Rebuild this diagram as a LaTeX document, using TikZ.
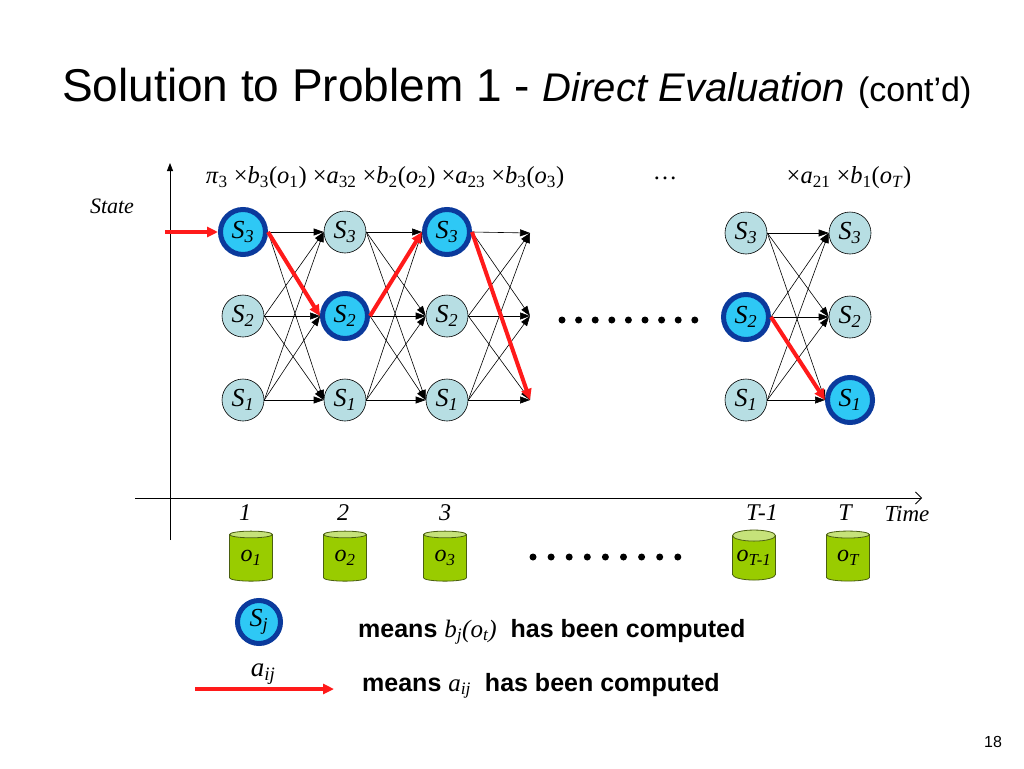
\documentclass[tikz,border=0pt]{standalone}
\usepackage{fontspec}
\setmainfont{Liberation Serif}
\setsansfont{Liberation Sans}
\usetikzlibrary{arrows.meta,shapes.geometric}
\definecolor{nodefill}{HTML}{B7DEE3}
\definecolor{hiring}{HTML}{0B3A9C}
\definecolor{hifill}{HTML}{2EC8F5}
\definecolor{cylbody}{HTML}{99CC00}
\definecolor{cyltop}{HTML}{C6E27A}
\definecolor{cylline}{HTML}{4A5F10}
\definecolor{redarr}{HTML}{FF1A1A}
\newcommand\sbs[1]{\textsubscript{#1}}
\newcommand\Sn[1]{\textit{S}\sbs{\textit{#1}}}
\begin{document}
\begin{tikzpicture}[x=1pt,y=-1pt,
 st/.style={circle, draw=black, line width=0.6pt, fill=nodefill, minimum size=42pt, inner sep=0pt, font=\fontsize{26}{28}\selectfont},
 hi/.style={circle, draw=hiring, line width=5pt, fill=hifill, minimum size=45pt, inner sep=0pt, font=\fontsize{26}{28}\selectfont},
 tr/.style={-{Triangle[length=10pt,width=7pt]}, line width=0.6pt, black},
 redtr/.style={-{Triangle[length=11pt,width=10pt]}, line width=4pt, redarr},
 obs/.style={cylinder, shape border rotate=90, aspect=0.32, draw=cylline, line width=0.8pt, cylinder uses custom fill, cylinder body fill=cylbody, cylinder end fill=cyltop, minimum width=43pt, minimum height=50pt, inner sep=0pt, font=\fontsize{24}{26}\selectfont\itshape},
 lab/.style={font=\fontsize{24}{26}\selectfont\itshape, inner sep=0pt},
 dot/.style={circle, fill=black, inner sep=0pt, minimum size=7pt}
]
\fill[white] (0,0) rectangle (1024,768);
\useasboundingbox (0,0) rectangle (1024,768);

% title
\node[anchor=base west, inner sep=0pt, font=\sffamily\fontsize{46}{50}\selectfont] (title) at (62,101)
 {Solution to Problem 1 - {\fontsize{40}{44}\selectfont\itshape Direct Evaluation} {\fontsize{34}{36}\selectfont (cont’d)}};

% formulas
\node[font=\fontsize{24.5}{26}\selectfont, inner sep=0pt] (f1) at (385,178)
 {\textit{π}\sbs{3} ×\textit{b}\sbs{3}(\textit{o}\sbs{1}) ×\textit{a}\sbs{32} ×\textit{b}\sbs{2}(\textit{o}\sbs{2}) ×\textit{a}\sbs{23} ×\textit{b}\sbs{3}(\textit{o}\sbs{3})};
\node[font=\fontsize{24.5}{26}\selectfont, inner sep=0pt] (f2) at (665,178) {…};
\node[font=\fontsize{24.5}{26}\selectfont, inner sep=0pt] (f3) at (849,178)
 {×\textit{a}\sbs{21} ×\textit{b}\sbs{1}(\textit{o}\sbs{\textit{T}})};

% axes
\coordinate (yb) at (170,540);
\coordinate (yt) at (170,163);
\draw[-{Triangle[length=8pt,width=6pt]}, line width=0.8pt] (yb) -- (yt);
\coordinate (xl) at (135,498);
\coordinate (xr) at (922,498);
\draw[-{Straight Barb[length=6pt,width=12pt]}, line width=0.8pt] (xl) -- (xr);
\node[font=\fontsize{22}{24}\selectfont\itshape] (state) at (112,206) {State};
\node[lab] (t1) at (245,513) {1};
\node[lab] (t2) at (343,513) {2};
\node[lab] (t3) at (445,513) {3};
\node[lab] (tT1) at (762,513) {T-1};
\node[lab] (tT) at (845,513) {T};
\node[font=\fontsize{23}{24}\selectfont\itshape, inner sep=0pt] (time) at (907,514) {Time};

% trellis nodes
\node[hi] (a3) at (243,232) {\Sn3};
\node[st] (a2) at (243,316) {\Sn2};
\node[st] (a1) at (243,400) {\Sn1};
\node[st] (b3) at (345,232) {\Sn3};
\node[hi] (b2) at (345,316) {\Sn2};
\node[st] (b1) at (345,400) {\Sn1};
\node[hi] (c3) at (447,232) {\Sn3};
\node[st] (c2) at (447,316) {\Sn2};
\node[st] (c1) at (447,400) {\Sn1};
\coordinate (d3) at (530,233);
\coordinate (d2) at (530,316);
\coordinate (d1) at (530,400);
\node[st] (y3) at (746,233) {\Sn3};
\node[hi] (y2) at (746,317) {\Sn2};
\node[st] (y1) at (746,400) {\Sn1};
\node[st] (z3) at (850,233) {\Sn3};
\node[st] (z2) at (850,317) {\Sn2};
\node[hi] (z1) at (850,400) {\Sn1};

% black transitions
\foreach \s/\t in {a/b,b/c,y/z}
 \foreach \i in {1,2,3}
  \foreach \j in {1,2,3}
   \draw[tr] (\s\i.east) -- (\t\j.west);
\foreach \i in {1,2,3}
 \foreach \j in {1,2,3}
  \draw[tr] (c\i.east) -- (d\j);

% red path
\coordinate (entry) at (165,232);
\draw[redtr] (entry) -- (a3.west);
\draw[redtr] (a3.east) -- (b2.west);
\draw[redtr] (b2.east) -- (c3.west);
\draw[redtr] (c3.east) -- (d1);
\draw[redtr] (y2.east) -- (z1.west);

% dots
\foreach \k in {0,...,8}
 \node[dot] (md\k) at (562+\k*16.6,320) {};
\foreach \k in {0,...,8}
 \node[dot] (bd\k) at (533+\k*18.1,557) {};

% observations
\node[obs] (o1) at (251,558) {o\sbs{\textit{1}}};
\node[obs] (o2) at (345,558) {o\sbs{\textit{2}}};
\node[obs] (o3) at (445,558) {o\sbs{\textit{3}}};
\node[obs] (oT1) at (754,558) {o\sbs{\textit{T-1}}};
\node[obs] (oT) at (848,558) {o\sbs{\textit{T}}};

% legend
\node[hi, minimum size=43pt] (leg) at (259,622) {\Sn{j}};
\node[anchor=base west, inner sep=0pt, font=\sffamily\bfseries\fontsize{25}{27}\selectfont] (leg1) at (358,637)
 {means {\rmfamily\mdseries\itshape b\sbs{j}(o\sbs{t})}\ \ has been computed};
\node[font=\fontsize{27}{28}\selectfont\itshape, inner sep=0pt] (aij) at (263,674) {a\sbs{ij}};
\coordinate (l2a) at (195,689);
\coordinate (l2b) at (334,689);
\draw[redtr] (l2a) -- (l2b);
\node[anchor=base west, inner sep=0pt, font=\sffamily\bfseries\fontsize{25}{27}\selectfont] (leg2) at (362,691)
 {means {\rmfamily\mdseries\itshape a\sbs{ij}}\ \ has been computed};

\node[font=\sffamily\fontsize{16}{18}\selectfont] (pg) at (993,742) {18};
\end{tikzpicture}
\end{document}
